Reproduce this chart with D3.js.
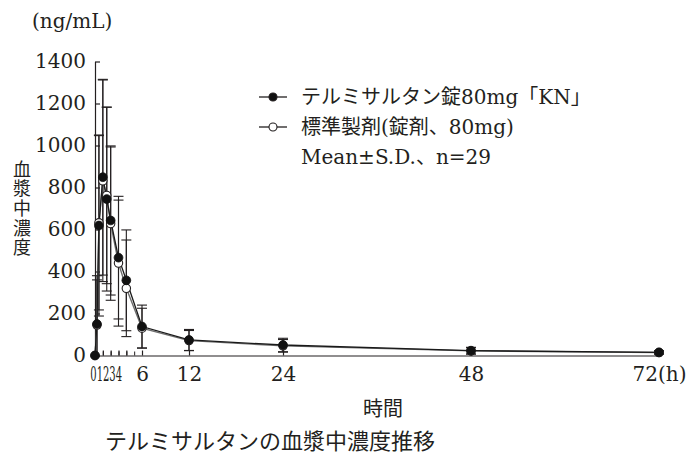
<!DOCTYPE html>
<html>
<head>
<meta charset="utf-8">
<script src="https://cdn.jsdelivr.net/npm/d3@7"></script>
<style>
  body { margin: 0; background: #fff; }
  svg { display: block; }
  text { fill: #231f20; }
</style>
</head>
<body>
<svg id="chart" width="688" height="454"></svg>
<script>
// ---- data ----
const times    = [0, 0.25, 0.5, 1, 1.5, 2, 3, 4, 6, 12, 24, 48, 72];
const testMean = [0, 150, 619, 849, 745, 643, 466, 358, 138, 74, 50, 23, 15];
const testSD   = [0, 230, 431, 466, 438, 355, 292, 240, 102, 50, 32, 16, 8];
const refMean  = [0, 145, 632, 832, 762, 628, 440, 320, 130, 71, 46, 22, 14];
const refSD    = [0, 215, 415, 480, 420, 365, 300, 230, 95, 48, 30, 15, 7];

const yTickValues = [0, 200, 400, 600, 800, 1000, 1200, 1400];
const xTickValues = [0, 1, 2, 3, 4, 6, 12, 24, 48, 72];
const xTickLabels = ["0", "1", "2", "3", "4", "6", "12", "24", "48", "72(h)"];
const xMinorTicks = [1, 2, 3, 4, 5];

const legendLabels = ["テルミサルタン錠80mg「KN」", "標準製剤(錠剤、80mg)", "Mean±S.D.、n=29"];
const yUnit = "(ng/mL)";
const yTitle = "血漿中濃度";
const xTitle = "時間";
const caption = "テルミサルタンの血漿中濃度推移";

// ---- setup ----
const svg = d3.select("#chart");
const serif = "'DejaVu Serif', 'Noto Sans CJK JP', serif";
const jp = "'Noto Sans CJK JP', sans-serif";
const ink = "#231f20";

const x = d3.scaleLinear().domain([0, 72]).range([95, 659]);
const y = d3.scaleLinear().domain([0, 1400]).range([355.5, 61.5]);

// y axis
const yAxis = svg.append("g").attr("transform", `translate(${x(0)},0)`)
  .call(d3.axisLeft(y).tickValues(yTickValues).tickFormat(d3.format("d"))
    .tickSizeInner(-5).tickSizeOuter(0).tickPadding(9));
yAxis.selectAll("text").attr("font-family", serif).attr("font-size", 20).attr("fill", ink);
yAxis.selectAll("line, path").attr("stroke", ink).attr("stroke-width", 1.2);

// x axis
const xAxis = svg.append("g").attr("transform", `translate(0,${y(0)})`)
  .call(d3.axisBottom(x).tickValues(xTickValues).tickFormat((d, i) => xTickLabels[i])
    .tickSizeInner(-5).tickSizeOuter(0).tickPadding(11));
xAxis.selectAll("text").attr("font-family", serif).attr("font-size", 20).attr("fill", ink);
xAxis.selectAll("line, path").attr("stroke", ink).attr("stroke-width", 1.2);
// condensed early-hour labels
xAxis.selectAll(".tick").filter(d => d <= 4).select("text")
  .attr("transform", d => `translate(${-2 - 1.5 * d},0) scale(0.5,1)`);
xAxis.selectAll(".tick").filter(d => d === 0).select("line").remove();

// minor ticks
const xMinor = svg.append("g").attr("transform", `translate(0,${y(0)})`)
  .call(d3.axisBottom(x).tickValues(xMinorTicks).tickSizeInner(-4).tickSizeOuter(0).tickFormat(""));
xMinor.select(".domain").remove();
xMinor.selectAll("line").attr("stroke", ink).attr("stroke-width", 1);

// ---- series ----
const test = times.map((t, i) => ({t, m: testMean[i], sd: testSD[i]}));
const ref  = times.map((t, i) => ({t, m: refMean[i], sd: refSD[i]}));

function errorBars(data, cls) {
  const g = svg.append("g").attr("class", cls).attr("stroke", ink).attr("stroke-width", 1.1).attr("fill", "none");
  data.filter(d => d.sd > 0).forEach(d => {
    const cx = x(d.t), lo = y(Math.max(0, d.m - d.sd)), hi = y(d.m + d.sd);
    g.append("line").attr("x1", cx).attr("x2", cx).attr("y1", lo).attr("y2", hi);
    g.append("line").attr("x1", cx - 5).attr("x2", cx + 5).attr("y1", hi).attr("y2", hi);
    if (d.m - d.sd > 0)
      g.append("line").attr("x1", cx - 5).attr("x2", cx + 5).attr("y1", lo).attr("y2", lo);
  });
}
errorBars(ref, "ref-err");
errorBars(test, "test-err");

const line = d3.line().x(d => x(d.t)).y(d => y(d.m));
svg.append("path").datum(ref).attr("d", line).attr("fill", "none").attr("stroke", "#6d6d6d").attr("stroke-width", 1.4);
svg.append("path").datum(test).attr("d", line).attr("fill", "none").attr("stroke", "#1a1a1a").attr("stroke-width", 1.3);

svg.append("g").selectAll("circle").data(ref).join("circle")
  .attr("cx", d => x(d.t)).attr("cy", d => y(d.m)).attr("r", 4.2)
  .attr("fill", "#fff").attr("stroke", ink).attr("stroke-width", 1.1);
svg.append("g").selectAll("circle").data(test).join("circle")
  .attr("cx", d => x(d.t)).attr("cy", d => y(d.m)).attr("r", 4.4)
  .attr("fill", "#111").attr("stroke", "#111").attr("stroke-width", 0.8);

// ---- legend ----
const lg = svg.append("g");
const rowsY = [97, 127, 157];
[0, 1].forEach(i => {
  lg.append("line").attr("x1", 259).attr("x2", 287).attr("y1", rowsY[i]).attr("y2", rowsY[i])
    .attr("stroke", ink).attr("stroke-width", 1.3);
  lg.append("circle").attr("cx", 273).attr("cy", rowsY[i]).attr("r", 4)
    .attr("fill", i === 0 ? "#111" : "#fff").attr("stroke", ink).attr("stroke-width", 1.1);
});
legendLabels.forEach((s, i) => {
  lg.append("text").attr("x", 301).attr("y", rowsY[i]).attr("dominant-baseline", "central")
    .attr("font-family", serif).attr("font-size", 20).text(s);
});

// ---- titles ----
svg.append("text").attr("x", 32).attr("y", 21).attr("dominant-baseline", "central")
  .attr("font-family", serif).attr("font-size", 20).text(yUnit);

svg.append("text").attr("x", 22).attr("y", 160)
  .style("writing-mode", "vertical-rl").style("letter-spacing", "1.6px")
  .attr("font-family", jp).attr("font-size", 18).text(yTitle);

svg.append("text").attr("x", 383).attr("y", 407).attr("text-anchor", "middle").attr("dominant-baseline", "central")
  .attr("font-family", jp).attr("font-size", 20).text(xTitle);

svg.append("text").attr("x", 105).attr("y", 439).attr("dominant-baseline", "central")
  .attr("font-family", jp).attr("font-size", 22).text(caption);
</script>
</body>
</html>
